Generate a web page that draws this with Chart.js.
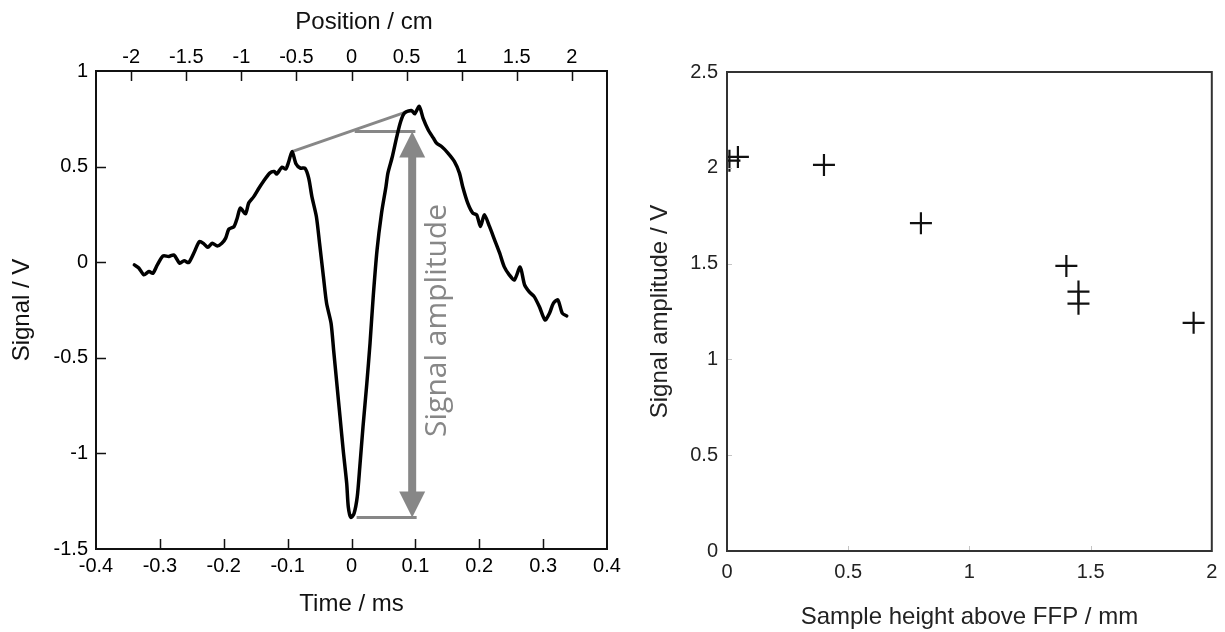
<!DOCTYPE html>
<html>
<head>
<meta charset="utf-8">
<script src="https://cdn.jsdelivr.net/npm/chart.js@4.4.1/dist/chart.umd.min.js"></script>
<style>
  html, body { margin: 0; padding: 0; background: #fff; }
  #wrap { position: relative; width: 1225px; height: 632px; }
  #left { position: absolute; left: 0; top: 0; z-index: 2; }
  #right { position: absolute; left: 612px; top: 0; z-index: 1; }
</style>
</head>
<body>
<div id="wrap">
  <div id="left"><canvas id="traceChart" width="650" height="632"></canvas></div>
  <div id="right"><canvas id="ampChart" width="613" height="632"></canvas></div>
</div>
<script>
// left panel: signal trace
const traceTime = [
  -0.340, -0.333, -0.325, -0.317, -0.311, -0.304, -0.295, -0.286, -0.278, -0.269,
  -0.262, -0.255, -0.247, -0.238, -0.231, -0.225, -0.218, -0.210, -0.203, -0.197,
  -0.192, -0.184, -0.179, -0.174, -0.166, -0.161, -0.153, -0.145, -0.138, -0.128,
  -0.121, -0.117, -0.109, -0.103, -0.099, -0.093, -0.087, -0.080, -0.073, -0.067,
  -0.062, -0.055, -0.050, -0.044, -0.039, -0.032, -0.028, -0.023, -0.018, -0.013,
  -0.0075, -0.005, -0.001, 0.004, 0.009, 0.013, 0.018, 0.024, 0.029, 0.034,
  0.040, 0.047, 0.054, 0.057, 0.064, 0.071, 0.077, 0.083, 0.094, 0.099,
  0.106, 0.112, 0.120, 0.128, 0.133, 0.141, 0.151, 0.161, 0.169, 0.174,
  0.182, 0.190, 0.196, 0.202, 0.208, 0.216, 0.224, 0.232, 0.239, 0.247,
  0.255, 0.264, 0.271, 0.278, 0.286, 0.294, 0.303, 0.310, 0.316, 0.323,
  0.330, 0.337
];
const traceSignal = [
  -0.014, -0.030, -0.066, -0.049, -0.058, -0.014, 0.033, 0.030, 0.038, -0.005,
  0.008, -0.002, 0.047, 0.108, 0.096, 0.078, 0.099, 0.085, 0.099, 0.126,
  0.173, 0.186, 0.230, 0.283, 0.253, 0.309, 0.343, 0.387, 0.422, 0.466,
  0.474, 0.461, 0.497, 0.487, 0.518, 0.579, 0.515, 0.492, 0.492, 0.440,
  0.343, 0.239, 0.099, -0.075, -0.215, -0.319, -0.459, -0.634, -0.808, -0.983,
  -1.157, -1.280, -1.335, -1.314, -1.227, -1.070, -0.861, -0.634, -0.424, -0.180,
  0.064, 0.256, 0.396, 0.466, 0.553, 0.658, 0.736, 0.780, 0.794, 0.776,
  0.815, 0.754, 0.693, 0.650, 0.623, 0.605, 0.571, 0.527, 0.466, 0.396,
  0.309, 0.256, 0.248, 0.187, 0.248, 0.187, 0.117, 0.047, -0.023, -0.066,
  -0.093, -0.026, -0.119, -0.154, -0.180, -0.232, -0.302, -0.267, -0.215, -0.197,
  -0.267, -0.281
];

// grey construction lines and arrow
const tangentTime = [-0.092, 0.094];
const tangentSignal = [0.58, 0.795];
const topRefTime = [0.005, 0.100];
const topRefSignal = [0.684, 0.684];
const bottomRefTime = [0.008, 0.102];
const bottomRefSignal = [-1.335, -1.335];
const arrowTime = [0.095];
const arrowEnds = [0.684, -1.335];

const timeTicks = [-0.4, -0.3, -0.2, -0.1, 0, 0.1, 0.2, 0.3, 0.4];
const signalTicks = [-1.5, -1, -0.5, 0, 0.5, 1];
const positionTicks = [-2, -1.5, -1, -0.5, 0, 0.5, 1, 1.5, 2];

// right panel: amplitude vs height
const heightValues = [0.01, 0.045, 0.40, 0.80, 1.40, 1.45, 1.45, 1.925];
const amplitudeValues = [2.037, 2.057, 2.015, 1.711, 1.488, 1.354, 1.291, 1.191];
const heightTicks = [0, 0.5, 1, 1.5, 2];
const amplitudeTicks = [0, 0.5, 1, 1.5, 2, 2.5];

const FONT = "'Liberation Sans', Arial, sans-serif";
const GREY = '#878787';

function toPoints(xs, ys) {
  return xs.map((x, i) => ({ x: x, y: ys[i] }));
}

function fixedTicks(values) {
  return scale => { scale.ticks = values.map(v => ({ value: v })); };
}

function fixedSize(prop, size) {
  return scale => {
    scale[prop] = size;
    scale.paddingLeft = 0;
    scale.paddingRight = 0;
    scale.paddingTop = 0;
    scale.paddingBottom = 0;
  };
}

// draws the box and the inward tick marks
function frameTicksPlugin(cfg) {
  return {
    id: 'frameTicks',
    afterDraw(chart) {
      const { ctx, chartArea: a } = chart;
      ctx.save();
      ctx.strokeStyle = cfg.tickColor;
      ctx.lineWidth = cfg.tickWidth;
      ctx.beginPath();
      cfg.axes.forEach(ax => {
        const scale = chart.scales[ax.id];
        ax.values.forEach(v => {
          const p = Math.round(scale.getPixelForValue(v)) + 0.5;
          if (ax.side === 'bottom') { ctx.moveTo(p, a.bottom); ctx.lineTo(p, a.bottom - cfg.tickLen); }
          if (ax.side === 'top') { ctx.moveTo(p, a.top); ctx.lineTo(p, a.top + cfg.tickLen); }
          if (ax.side === 'left') { ctx.moveTo(a.left, p); ctx.lineTo(a.left + cfg.tickLen, p); }
        });
      });
      ctx.stroke();
      ctx.strokeStyle = cfg.frameColor;
      ctx.lineWidth = cfg.frameWidth;
      ctx.strokeRect(a.left, a.top, a.right - a.left, a.bottom - a.top);
      ctx.restore();
    }
  };
}

const amplitudeMarker = {
  id: 'amplitudeMarker',
  afterDatasetsDraw(chart) {
    const { ctx, scales } = chart;
    const x = scales.x.getPixelForValue(arrowTime[0]);
    const yTop = scales.y.getPixelForValue(arrowEnds[0]);
    const yBot = scales.y.getPixelForValue(arrowEnds[1]);
    const head = 26, half = 13, shaft = 4;
    ctx.save();
    ctx.fillStyle = GREY;
    ctx.fillRect(x - shaft, yTop + head - 1, shaft * 2, (yBot - head) - (yTop + head) + 2);
    ctx.beginPath();
    ctx.moveTo(x, yTop);
    ctx.lineTo(x + half, yTop + head);
    ctx.lineTo(x - half, yTop + head);
    ctx.closePath();
    ctx.fill();
    ctx.beginPath();
    ctx.moveTo(x, yBot);
    ctx.lineTo(x + half, yBot - head);
    ctx.lineTo(x - half, yBot - head);
    ctx.closePath();
    ctx.fill();

    ctx.translate(x + 25, (yTop + yBot) / 2 - 4);
    ctx.rotate(-Math.PI / 2);
    ctx.font = "30px 'Open Sans', sans-serif";
    ctx.textAlign = 'center';
    ctx.textBaseline = 'middle';
    ctx.fillText('Signal amplitude', 0, 0);
    ctx.restore();

    // top axis title
    ctx.save();
    ctx.fillStyle = '#111';
    ctx.font = '24px ' + FONT;
    ctx.textAlign = 'center';
    ctx.textBaseline = 'middle';
    ctx.fillText('Position / cm', 364, 22);
    ctx.restore();
  }
};

function createTraceChart() {
  const canvas = document.getElementById('traceChart');
  const ctx = canvas.getContext('2d');

  const greyLine = (data) => ({
    data: data,
    borderColor: GREY,
    borderWidth: 3,
    pointRadius: 0,
    tension: 0
  });

  new Chart(ctx, {
    type: 'line',
    data: {
      datasets: [
        {
          label: 'Signal',
          data: toPoints(traceTime, traceSignal),
          borderColor: '#000',
          borderWidth: 3.5,
          pointRadius: 0,
          tension: 0.25,
          borderJoinStyle: 'round',
          borderCapStyle: 'round'
        },
        greyLine(toPoints(tangentTime, tangentSignal)),
        greyLine(toPoints(topRefTime, topRefSignal)),
        greyLine(toPoints(bottomRefTime, bottomRefSignal))
      ]
    },
    options: {
      responsive: false,
      animation: false,
      layout: { padding: { left: 0, right: 43, top: 0, bottom: 0 } },
      plugins: { legend: { display: false }, tooltip: { enabled: false } },
      scales: {
        x: {
          type: 'linear',
          position: 'bottom',
          min: -0.4,
          max: 0.4,
          afterBuildTicks: fixedTicks(timeTicks),
          afterFit: fixedSize('height', 83),
          grid: { display: false, drawTicks: false },
          border: { display: false },
          ticks: { color: '#000', font: { family: FONT, size: 20 }, padding: 5, maxRotation: 0, callback: v => String(v) },
          title: { display: true, text: 'Time / ms', color: '#111', font: { family: FONT, size: 24 }, padding: { top: 0, bottom: 13 } }
        },
        x2: {
          type: 'linear',
          position: 'top',
          min: -2.32,
          max: 2.32,
          afterBuildTicks: fixedTicks(positionTicks),
          afterFit: fixedSize('height', 71),
          grid: { display: false, drawTicks: false },
          border: { display: false },
          ticks: { color: '#000', font: { family: FONT, size: 20 }, padding: 2, maxRotation: 0, callback: v => String(v) }
        },
        y: {
          type: 'linear',
          min: -1.5,
          max: 1,
          afterBuildTicks: fixedTicks(signalTicks),
          afterFit: fixedSize('width', 96),
          grid: { display: false, drawTicks: false },
          border: { display: false },
          ticks: { color: '#000', font: { family: FONT, size: 20 }, padding: 8, callback: v => String(v) },
          title: { display: true, text: 'Signal / V', color: '#111', font: { family: FONT, size: 24 }, padding: { top: 8, bottom: 0 } }
        }
      }
    },
    plugins: [
      frameTicksPlugin({
        tickColor: '#111', tickWidth: 1.5, tickLen: 10, frameColor: '#111', frameWidth: 2,
        axes: [
          { id: 'x', side: 'bottom', values: timeTicks.slice(1, -1) },
          { id: 'x2', side: 'top', values: positionTicks },
          { id: 'y', side: 'left', values: signalTicks.slice(1, -1) }
        ]
      }),
      amplitudeMarker
    ]
  });
}

function createAmplitudeChart() {
  const canvas = document.getElementById('ampChart');
  const ctx = canvas.getContext('2d');

  new Chart(ctx, {
    type: 'scatter',
    data: {
      datasets: [{
        label: 'Signal amplitude',
        data: toPoints(heightValues, amplitudeValues),
        pointStyle: 'cross',
        pointRadius: 11,
        borderColor: '#111',
        borderWidth: 2.2,
        backgroundColor: '#111'
      }]
    },
    options: {
      responsive: false,
      animation: false,
      layout: { padding: { left: 0, right: 13, top: 72, bottom: 0 } },
      plugins: { legend: { display: false }, tooltip: { enabled: false } },
      scales: {
        x: {
          type: 'linear',
          min: 0,
          max: 2,
          afterBuildTicks: fixedTicks(heightTicks),
          afterFit: fixedSize('height', 81),
          grid: { display: false, drawTicks: false },
          border: { display: false },
          ticks: { color: '#222', font: { family: FONT, size: 20 }, padding: 9, maxRotation: 0, callback: v => String(v) },
          title: { display: true, text: 'Sample height above FFP / mm', color: '#222', font: { family: FONT, size: 24 }, padding: { top: 0, bottom: 0 } }
        },
        y: {
          type: 'linear',
          min: 0,
          max: 2.5,
          afterBuildTicks: fixedTicks(amplitudeTicks),
          afterFit: fixedSize('width', 115),
          grid: { display: false, drawTicks: false },
          border: { display: false },
          ticks: { color: '#222', font: { family: FONT, size: 20 }, padding: 9, callback: v => String(v) },
          title: { display: true, text: 'Signal amplitude / V', color: '#222', font: { family: FONT, size: 24 }, padding: { top: 34, bottom: 0 } }
        }
      }
    },
    plugins: [
      frameTicksPlugin({
        tickColor: '#c4c4c4', tickWidth: 1, tickLen: 5, frameColor: '#333', frameWidth: 2,
        axes: [
          { id: 'x', side: 'bottom', values: heightTicks.slice(1, -1) },
          { id: 'y', side: 'left', values: amplitudeTicks.slice(1, -1) }
        ]
      })
    ]
  });
}

createTraceChart();
createAmplitudeChart();
</script>
</body>
</html>
